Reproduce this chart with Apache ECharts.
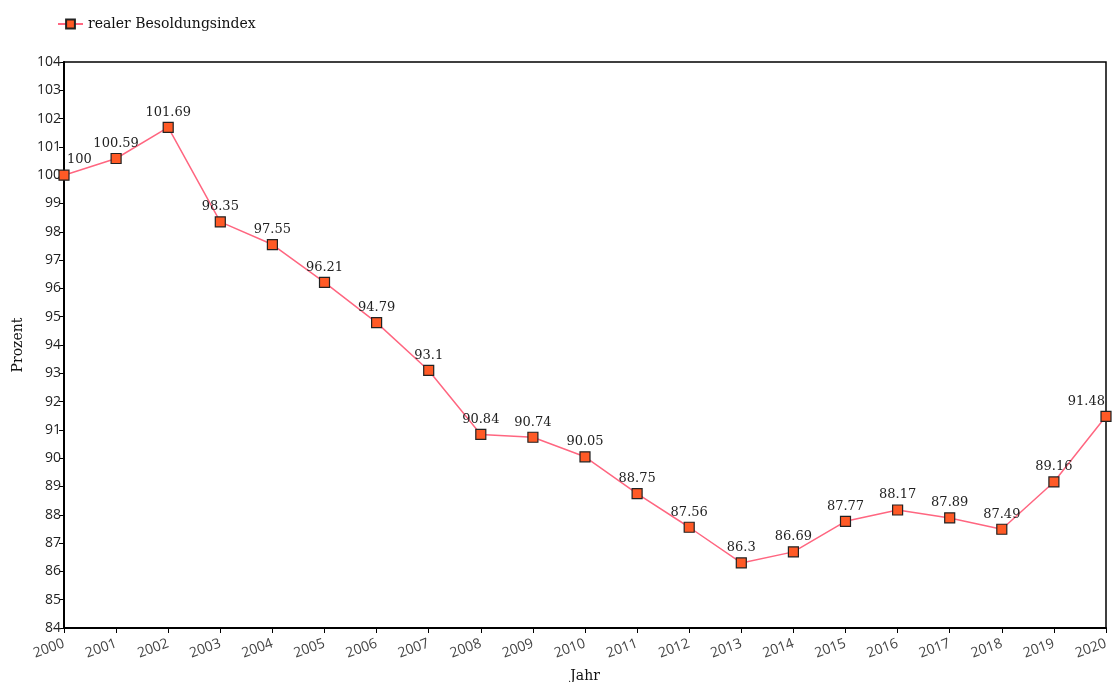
<!DOCTYPE html>
<html>
<head>
<meta charset="utf-8">
<script src="https://cdn.jsdelivr.net/npm/echarts@6/dist/echarts.min.js"></script>
<style>
  html, body { margin: 0; padding: 0; background: #fff; }
  #chart { width: 1112px; height: 682px; }
</style>
</head>
<body>
<div id="chart"></div>
<script>
// Jahre und realer Besoldungsindex (2000 = 100)
const years = ['2000','2001','2002','2003','2004','2005','2006','2007','2008','2009','2010',
               '2011','2012','2013','2014','2015','2016','2017','2018','2019','2020'];
const indexValues = [100, 100.59, 101.69, 98.35, 97.55, 96.21, 94.79, 93.1, 90.84, 90.74, 90.05,
                     88.75, 87.56, 86.3, 86.69, 87.77, 88.17, 87.89, 87.49, 89.16, 91.48];
const seriesName = 'realer Besoldungsindex';
const yMin = 84, yMax = 104, yStep = 1;

const SERIF = '"DejaVu Serif", "Liberation Serif", serif';
const SANS = '"Open Sans", "DejaVu Sans", sans-serif';
const chart = echarts.init(document.getElementById('chart'));

// Randpunkte: Beschriftung nach innen verschieben, damit sie im Diagramm bleibt
const lastIdx = indexValues.length - 1;
const seriesData = indexValues.map((v, i) => {
  if (i === 0) return { value: v, label: { align: 'left', offset: [3, 0] } };
  if (i === lastIdx) return { value: v, label: { align: 'right', offset: [-1, 0] } };
  return v;
});

chart.setOption({
  animation: false,
  backgroundColor: '#ffffff',
  textStyle: { fontFamily: SERIF },
  legend: {
    left: 52, top: 12,
    itemWidth: 25, itemHeight: 11,
    itemGap: 6,
    textStyle: { fontFamily: SERIF, fontSize: 14, color: '#111' },
    data: [seriesName]
  },
  grid: {
    left: 64, right: 6, top: 62, bottom: 54,
    outerBoundsMode: 'none', containLabel: false,
    show: true, borderColor: '#000', borderWidth: 1.5
  },
  xAxis: {
    type: 'category',
    data: years,
    boundaryGap: false,
    name: 'Jahr',
    nameLocation: 'middle',
    nameGap: 41,
    nameTextStyle: { fontFamily: SERIF, fontSize: 14, color: '#111' },
    axisLine: { lineStyle: { color: '#000', width: 2 } },
    axisTick: { alignWithLabel: true, length: 5, lineStyle: { color: '#000', width: 1 } },
    axisLabel: { rotate: 20, fontFamily: SANS, fontSize: 14, color: '#444', margin: 15, interval: 0 },
    splitLine: { show: false }
  },
  yAxis: {
    type: 'value',
    min: yMin, max: yMax, interval: yStep,
    name: 'Prozent',
    nameLocation: 'middle',
    nameGap: 39,
    nameRotate: 90,
    nameTextStyle: { fontFamily: SERIF, fontSize: 14, color: '#111' },
    axisLine: { show: true, lineStyle: { color: '#000', width: 2 } },
    axisTick: { show: true, length: 5, lineStyle: { color: '#000', width: 1 } },
    axisLabel: { fontFamily: SANS, fontSize: 14, color: '#222', margin: 3 },
    splitLine: { show: false }
  },
  series: [{
    name: seriesName,
    type: 'line',
    data: seriesData,
    symbol: 'rect',
    symbolSize: 10,
    lineStyle: { color: '#ff6680', width: 1.5 },
    itemStyle: { color: '#ff5a26', borderColor: '#222', borderWidth: 1.2 },
    label: {
      show: true,
      position: 'top',
      distance: 3,
      fontFamily: SERIF,
      fontSize: 13,
      color: '#222'
    }
  }]
});
</script>
</body>
</html>
